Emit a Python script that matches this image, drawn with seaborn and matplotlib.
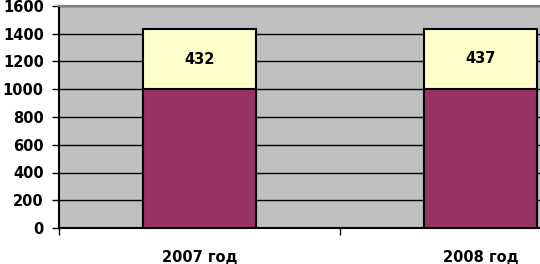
import matplotlib
matplotlib.use("Agg")
import matplotlib.pyplot as plt
import seaborn as sns
import pandas as pd

categories = ["2007 год", "2008 год"]
base_values = [1000, 1000]
top_values = [432, 437]
y_ticks = [0, 200, 400, 600, 800, 1000, 1200, 1400, 1600]

sns.set_theme(style="white")
plt.rcParams['font.family'] = ['DejaVu Sans']

df = pd.DataFrame({"cat": categories, "base": base_values, "top": top_values})
df["total"] = df["base"] + df["top"]

fig = plt.figure(figsize=(5.4, 2.64), dpi=100)
ax = fig.add_axes([59/540, 36/264, 562/540, 222/264])
ax.set_facecolor("#C0C0C0")

sns.barplot(data=df, x="cat", y="total", color="#FFFFCC", saturation=1,
            width=0.4, edgecolor="black", linewidth=1.5, ax=ax, zorder=3)
sns.barplot(data=df, x="cat", y="base", color="#993366", saturation=1,
            width=0.4, edgecolor="black", linewidth=1.5, ax=ax, zorder=4)

for i, (b, t) in enumerate(zip(base_values, top_values)):
    ax.text(i, b + t / 2, str(t), ha="center", va="center",
            fontsize=10.5, fontweight="bold", color="black", zorder=5)

ax.set_ylim(0, 1600)
ax.set_xlim(-0.5, 1.5)
ax.set_yticks(y_ticks)
ax.set_yticklabels([str(v) for v in y_ticks], fontsize=10.5, fontweight="bold")
ax.yaxis.grid(True, color="black", linewidth=1, zorder=1)
ax.set_axisbelow(True)

ax.set_xticks([-0.5, 0.5, 1.5])
ax.set_xticklabels(["", "", ""])
ax.set_xticks([0, 1], minor=True)
ax.set_xticklabels(categories, minor=True, fontsize=10.5, fontweight="bold")
ax.tick_params(axis="x", which="major", direction="out", length=5, width=1, color="black", bottom=True)
ax.tick_params(axis="x", which="minor", length=0, pad=16, labelcolor="black")
ax.tick_params(axis="y", direction="out", length=5, width=1, color="black", left=True, pad=6, labelcolor="black")

ax.set_xlabel("")
ax.set_ylabel("")
for s in ["left", "bottom"]:
    ax.spines[s].set_color("black")
    ax.spines[s].set_linewidth(1.5)
ax.spines["top"].set_color("#808080")
ax.spines["top"].set_linewidth(1.5)
ax.spines["right"].set_visible(False)

fig.savefig("out.png", dpi=100)
